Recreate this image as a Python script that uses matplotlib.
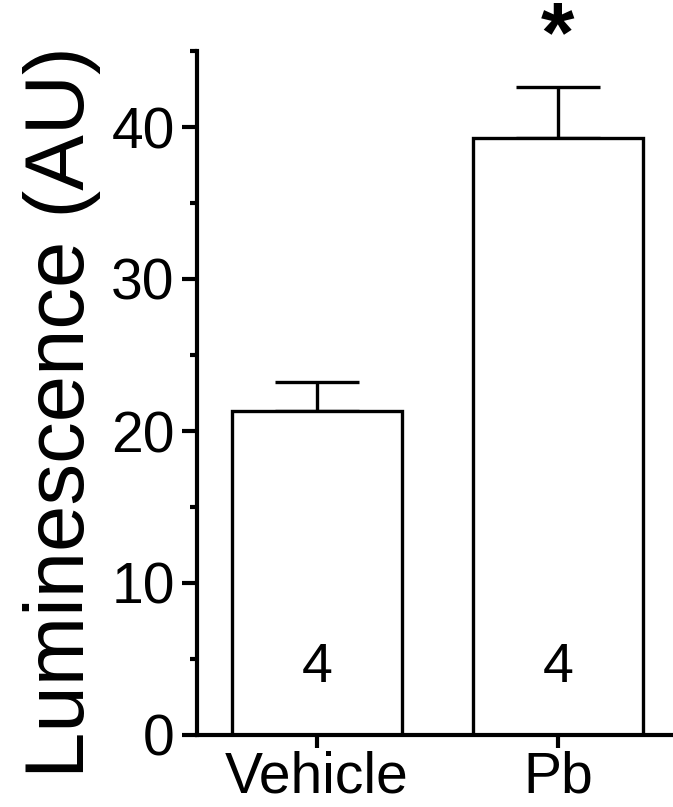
import numpy as np
import matplotlib
matplotlib.use("Agg")
import matplotlib.pyplot as plt
from matplotlib.ticker import MultipleLocator

# --- Data ---
groups = ["Vehicle", "Pb"]
means = [21.3, 39.3]
sem = [1.9, 3.3]
n_labels = ["4", "4"]
sig_marks = ["", "*"]

plt.rcParams['font.family'] = ['Liberation Sans', 'DejaVu Sans']

fig = plt.figure(figsize=(6.73, 8.07), dpi=100)
# axes box measured in pixels: left spine x=197, y=0 at 735, y=45 at 51
ax = fig.add_axes([197 / 673, 72 / 807, 480 / 673, 684 / 807])

x = np.arange(len(groups))
ax.bar(x, means, width=0.705, color="white", edgecolor="black", linewidth=2.4, zorder=2)
ax.errorbar(x, means, yerr=[np.zeros(len(sem)), sem], fmt="none", ecolor="black",
            elinewidth=2.4, capsize=30, capthick=2.4, zorder=1)

for xi, lab in zip(x, n_labels):
    ax.text(xi, 4.4, lab, ha="center", va="center", fontsize=40)
for xi, mark in zip(x, sig_marks):
    if mark:
        ax.text(xi, 44.3, mark, ha="center", va="baseline", fontsize=62,
                fontweight="bold", clip_on=False)

ax.set_xlim(-0.498, 1.494)
ax.set_ylim(0, 45)
ax.set_xticks(x)
ax.set_xticklabels(groups)
ax.yaxis.set_major_locator(MultipleLocator(10))
ax.yaxis.set_minor_locator(MultipleLocator(5))

for side in ["top", "right"]:
    ax.spines[side].set_visible(False)
for side in ["left", "bottom"]:
    ax.spines[side].set_linewidth(3)

ax.tick_params(axis="y", which="major", direction="out", length=11, width=3,
               labelsize=41, pad=5)
ax.tick_params(axis="y", which="minor", direction="out", length=5, width=3)
ax.tick_params(axis="x", which="major", direction="out", length=9, width=3,
               labelsize=41, pad=2)

ax.set_ylabel("Luminescence (AU)", fontsize=60)
ax.yaxis.set_label_coords(-0.2, 0.472)

fig.savefig("out.png", dpi=100)
